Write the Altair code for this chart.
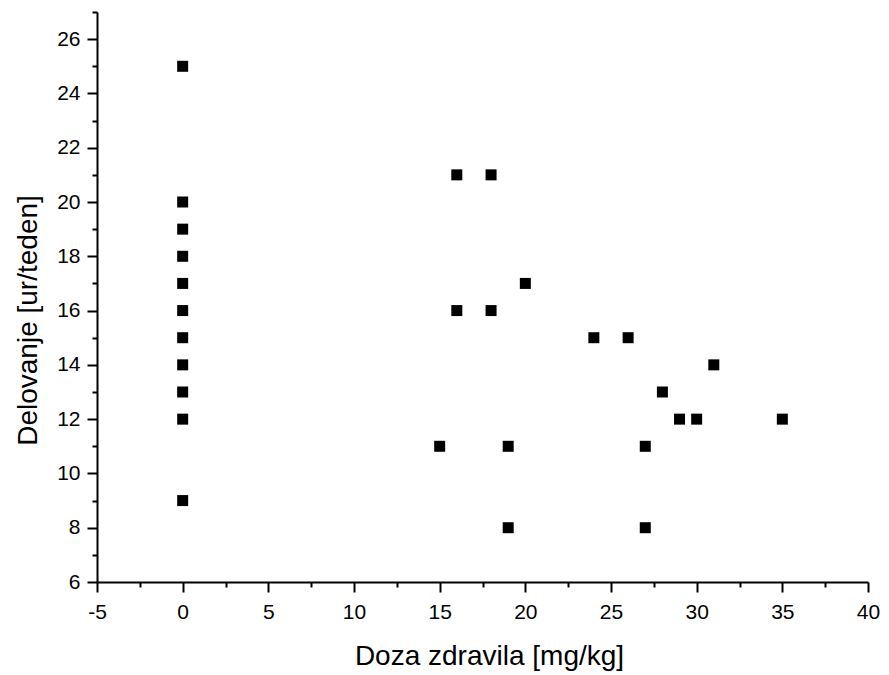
import altair as alt
import pandas as pd

# Data
dose = [0, 0, 0, 0, 0, 0, 0, 0, 0, 0, 0,
        16, 18, 20, 16, 18, 24, 26, 31, 28, 29, 30, 35, 15, 19, 27, 19, 27]
effect = [25, 20, 19, 18, 17, 16, 15, 14, 13, 12, 9,
          21, 21, 17, 16, 16, 15, 15, 14, 13, 12, 12, 12, 11, 11, 11, 8, 8]

x_major = [-5, 0, 5, 10, 15, 20, 25, 30, 35, 40]
x_minor = [-2.5, 2.5, 7.5, 12.5, 17.5, 22.5, 27.5, 32.5, 37.5]
y_major = [6, 8, 10, 12, 14, 16, 18, 20, 22, 24, 26]
y_minor = [7, 9, 11, 13, 15, 17, 19, 21, 23, 25, 27]

df = pd.DataFrame({"dose": dose, "effect": effect})

FONT = "Liberation Sans"
xs = alt.Scale(domain=[-5, 40], nice=False, zero=False)
ys = alt.Scale(domain=[6, 27], nice=False, zero=False)

common = dict(grid=False, domainColor="black", tickColor="black", labelColor="black",
              titleColor="black", labelFont=FONT, titleFont=FONT, domainWidth=2,
              tickWidth=2, labelFlush=False, labelOverlap=False,
              titleFontWeight="normal", labelExpr="'' + datum.value")

points = alt.Chart(df).mark_square(size=121, color="black", opacity=1).encode(
    x=alt.X("dose:Q", scale=xs,
            axis=alt.Axis(orient="bottom", values=x_major, title="Doza zdravila [mg/kg]",
                          tickSize=10, labelPadding=9, labelFontSize=21,
                          titleFontSize=28, titlePadding=20, titleX=392, **common)),
    y=alt.Y("effect:Q", scale=ys,
            axis=alt.Axis(orient="left", values=y_major, title="Delovanje [ur/teden]",
                          tickSize=10, labelPadding=7, labelFontSize=21,
                          titleFontSize=28, titlePadding=14, titleY=308, **common)),
)

minor = alt.Chart(df).mark_square(size=1, opacity=0).encode(
    x=alt.X("dose:Q", scale=xs, title=None,
            axis=alt.Axis(orient="bottom", values=x_minor, labels=False, domain=False,
                          tickSize=5, grid=False, tickColor="black", tickWidth=2)),
    y=alt.Y("effect:Q", scale=ys, title=None,
            axis=alt.Axis(orient="left", values=y_minor, labels=False, domain=False,
                          tickSize=5, grid=False, tickColor="black", tickWidth=2)),
)

chart = alt.layer(minor, points).resolve_axis(x="independent", y="independent").properties(
    width=771, height=570,
    autosize=alt.AutoSizeParams(type="none"),
    padding={"left": 89, "top": 4, "right": 13, "bottom": 92},
    background="white",
).configure_view(strokeWidth=0)

chart.save("out.html", embed_options={"renderer": "svg", "actions": False})
